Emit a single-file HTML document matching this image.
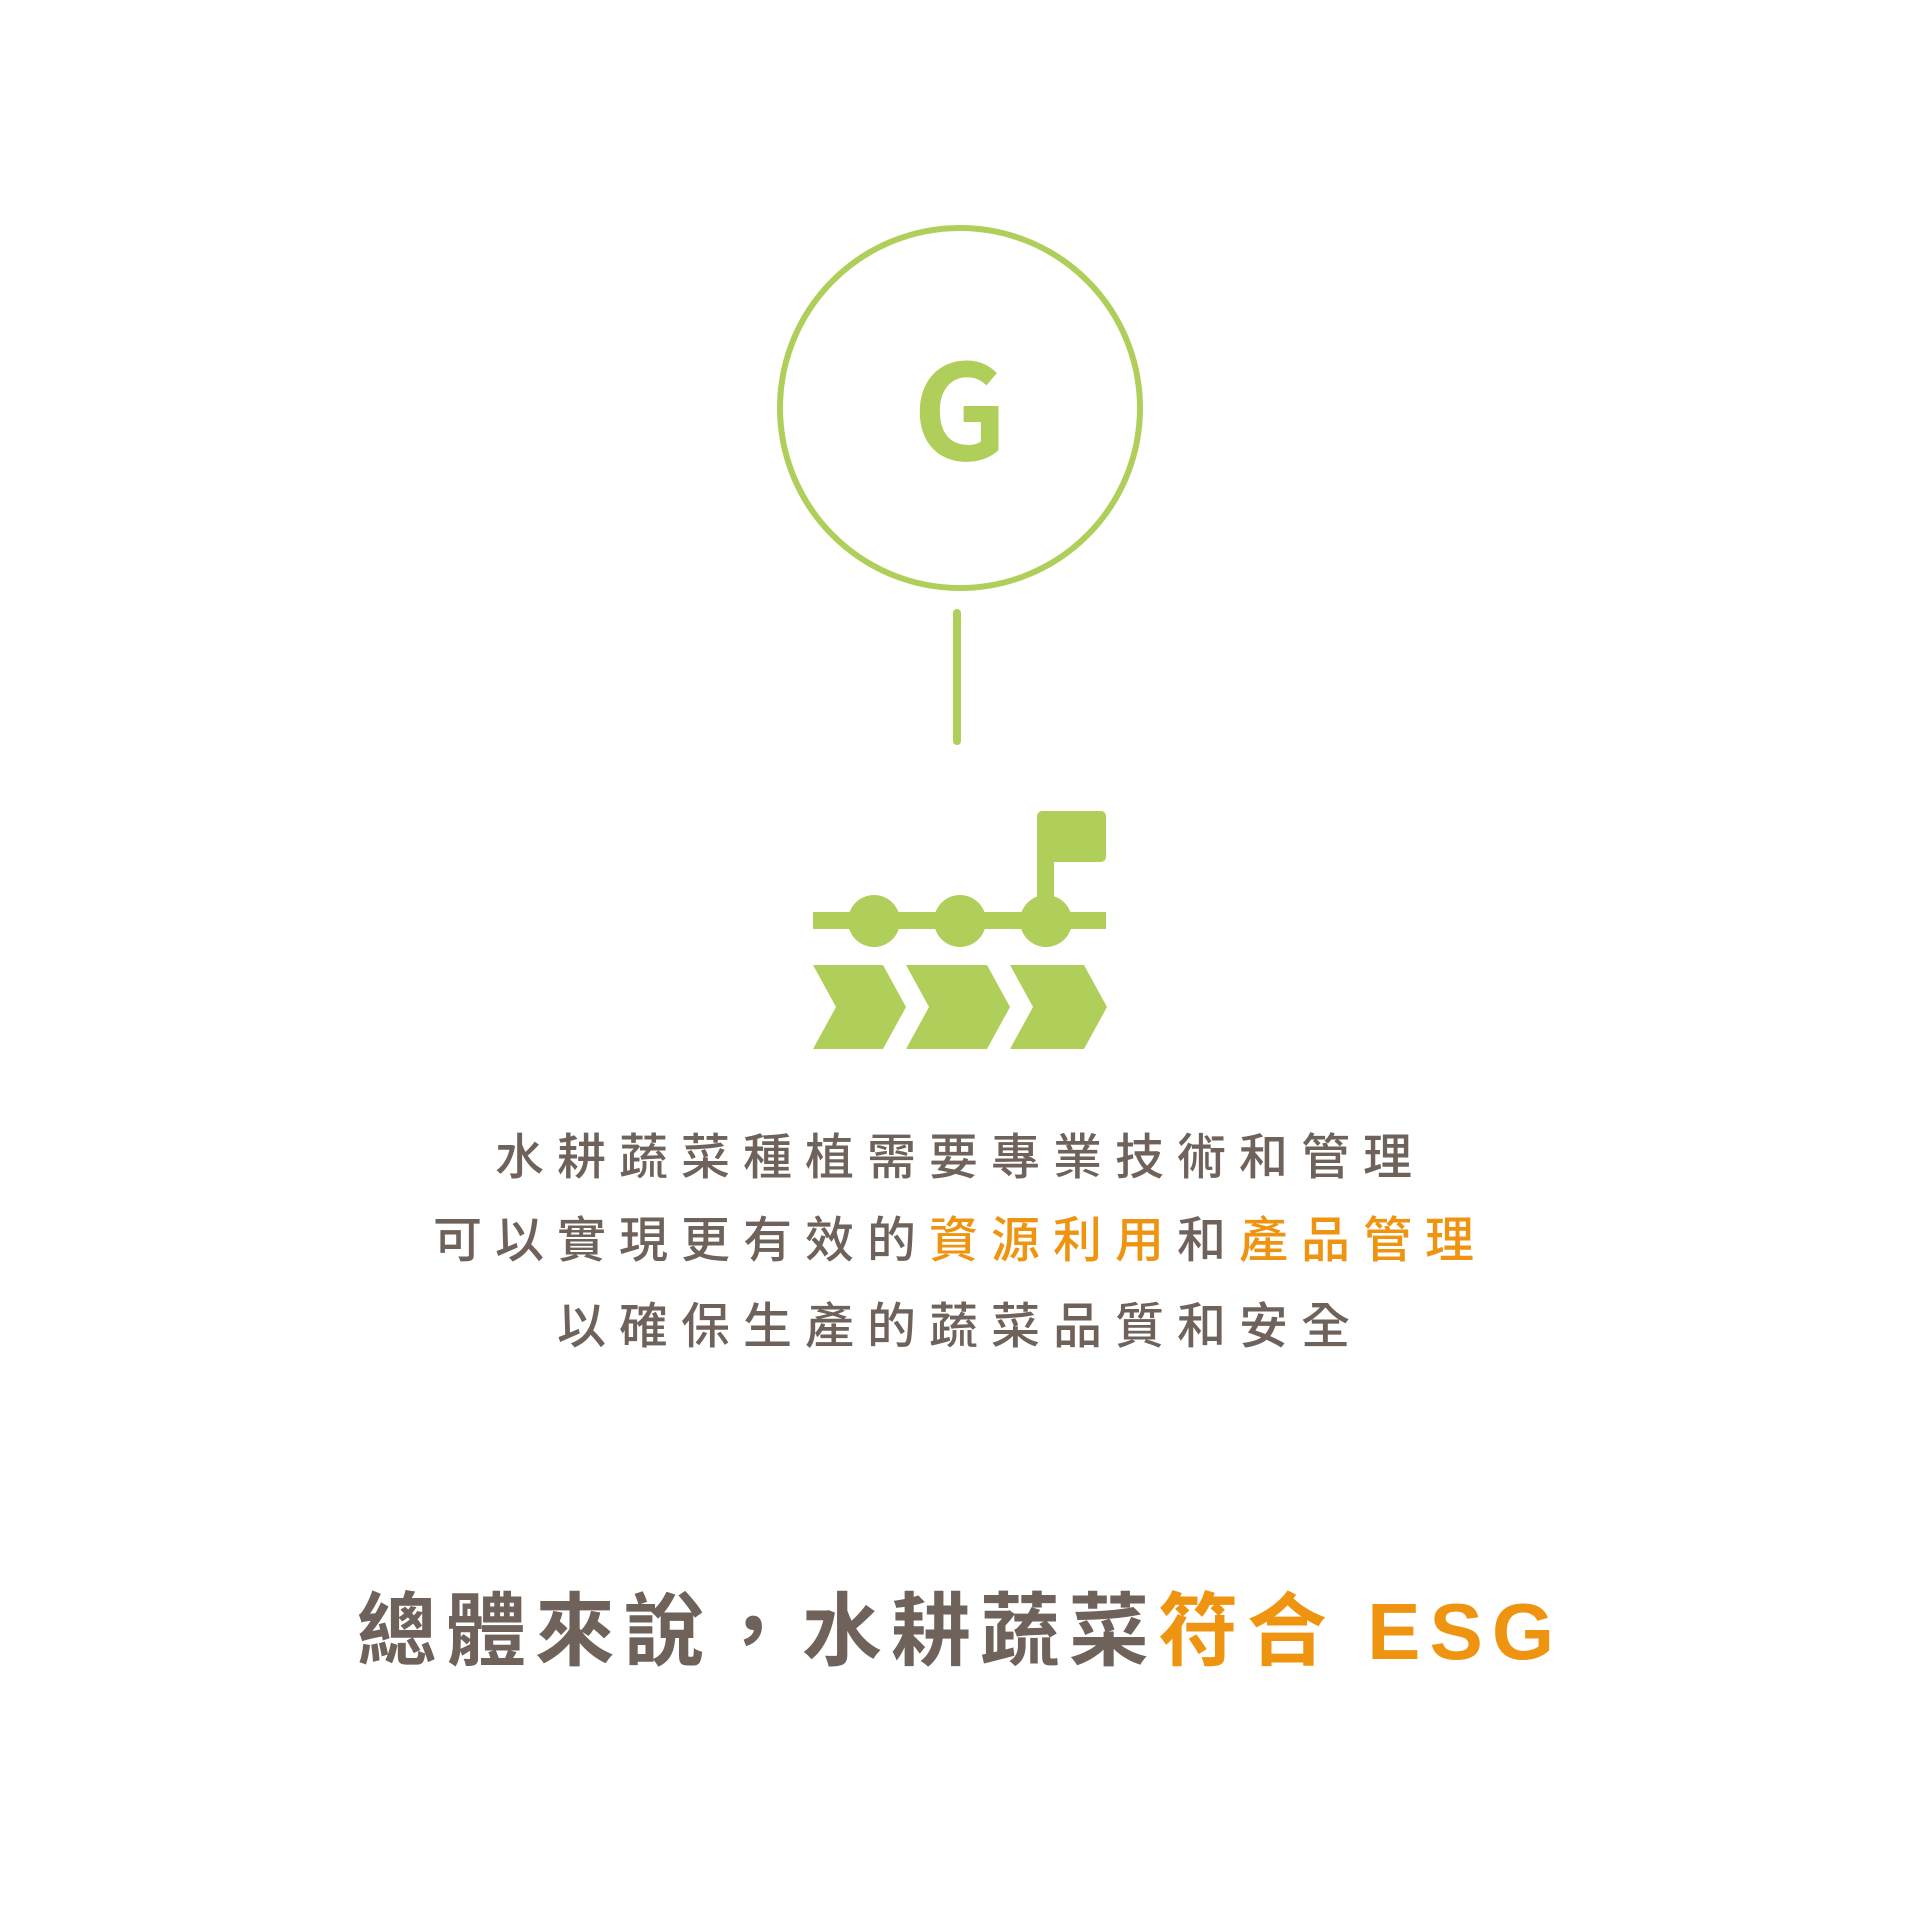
<!DOCTYPE html>
<html><head><meta charset="utf-8">
<style>
html,body{margin:0;padding:0;background:#fff;}
body{width:1920px;height:1920px;position:relative;overflow:hidden;font-family:"Liberation Sans","Noto Sans CJK TC",sans-serif;}
.line{position:absolute;left:0;width:1920px;text-align:center;color:#6e625a;white-space:nowrap;}
.o{color:#ef9410;}
.body{font-size:49px;letter-spacing:13px;font-weight:500;}
.title{font-size:80px;letter-spacing:9px;font-weight:700;}
</style></head><body>
<svg width="1920" height="1920" style="position:absolute;left:0;top:0">
  <circle cx="960" cy="408" r="180" fill="none" stroke="#afcf5a" stroke-width="6"/>
  <text x="960" y="460" text-anchor="middle" font-family="Noto Sans CJK TC, Liberation Sans, sans-serif" font-weight="700" font-size="132" fill="#afcf5a">G</text>
  <line x1="957" y1="613" x2="957" y2="741" stroke="#afcf5a" stroke-width="8" stroke-linecap="round"/>
  <g fill="#afcf5a">
    <rect x="1037" y="811" width="69" height="51" rx="5"/>
    <rect x="1037" y="830" width="17" height="95"/>
    <rect x="813" y="912" width="293" height="17"/>
    <circle cx="874" cy="921" r="26"/>
    <circle cx="960" cy="921" r="26"/>
    <circle cx="1046" cy="921" r="26"/>
    <polygon points="813,965 883,965 906,1007 883,1049 813,1049 836,1007"/>
    <polygon points="906,965 987,965 1010,1007 987,1049 906,1049 929,1007"/>
    <polygon points="1010,965 1084,965 1107,1007 1084,1049 1010,1049 1033,1007"/>
  </g>
</svg>
<div class="line body" style="top:1118px;">水耕蔬菜種植需要專業技術和管理</div>
<div class="line body" style="top:1201px;">可以實現更有效的<span class="o">資源利用</span>和<span class="o">產品管理</span></div>
<div class="line body" style="top:1287px;">以確保生產的蔬菜品質和安全</div>
<div class="line title" style="top:1567px;">總體來說，水耕蔬菜<span class="o">符合 ESG</span></div>
</body></html>
